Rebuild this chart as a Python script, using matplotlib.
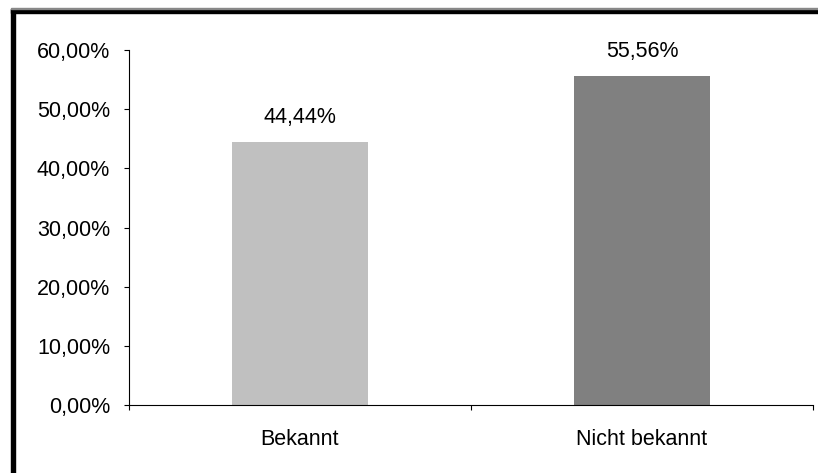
import matplotlib.pyplot as plt
from matplotlib.patches import Rectangle
from matplotlib.ticker import FuncFormatter

# --- Data ---
categories = ["Bekannt", "Nicht bekannt"]
shares = [44.44, 55.56]
bar_colors = ["#C0C0C0", "#808080"]
y_ticks = [0, 10, 20, 30, 40, 50, 60]

plt.rcParams['font.family'] = ['Liberation Sans', 'DejaVu Sans']

W, H = 818, 473
fig = plt.figure(figsize=(W / 100, H / 100), dpi=100)

# plot area in pixel coordinates
left, right, top, bottom = 129, 813, 50, 405
ax = fig.add_axes([left / W, (H - bottom) / H, (right - left) / W, (bottom - top) / H])

FS = 15.5

x = list(range(len(categories)))
ax.bar(x, shares, width=0.4, color=bar_colors, zorder=2)
for xi, v in zip(x, shares):
    ax.annotate(f"{v:.2f}%".replace(".", ","), (xi, v), xytext=(0, 18),
                textcoords="offset points", ha="center", va="center", fontsize=FS)

ax.set_xlim(-0.5, len(categories) - 0.5)
ax.set_ylim(0, 60)
ax.set_yticks(y_ticks)
ax.yaxis.set_major_formatter(FuncFormatter(lambda v, _: f"{v:.2f}%".replace(".", ",")))
ax.tick_params(axis="y", direction="out", length=3.6, width=0.8, labelsize=FS, pad=10)

# category labels centred, tick marks on the category boundaries
ax.set_xticks(x)
ax.set_xticklabels(categories, fontsize=FS)
ax.tick_params(axis="x", which="major", length=0, pad=17)
ax.set_xticks([-0.5, 0.5, 1.5], minor=True)
ax.tick_params(axis="x", which="minor", direction="out", length=3.6, width=0.8)

for side in ("top", "right"):
    ax.spines[side].set_visible(False)
for side in ("left", "bottom"):
    ax.spines[side].set_linewidth(0.8)
    ax.spines[side].set_color("black")

# heavy frame along the left and top edges
fig.patches.append(Rectangle((11 / W, 0), 4 / W, (H - 9) / H, transform=fig.transFigure,
                             color="black", zorder=10))
fig.patches.append(Rectangle((11 / W, (H - 13) / H), (W - 11) / W, 4 / H,
                             transform=fig.transFigure, color="black", zorder=10))
fig.patches.append(Rectangle((11 / W, (H - 9) / H), (W - 11) / W, 1 / H,
                             transform=fig.transFigure, color="#888888", zorder=10))

fig.savefig("out.png", dpi=100)
